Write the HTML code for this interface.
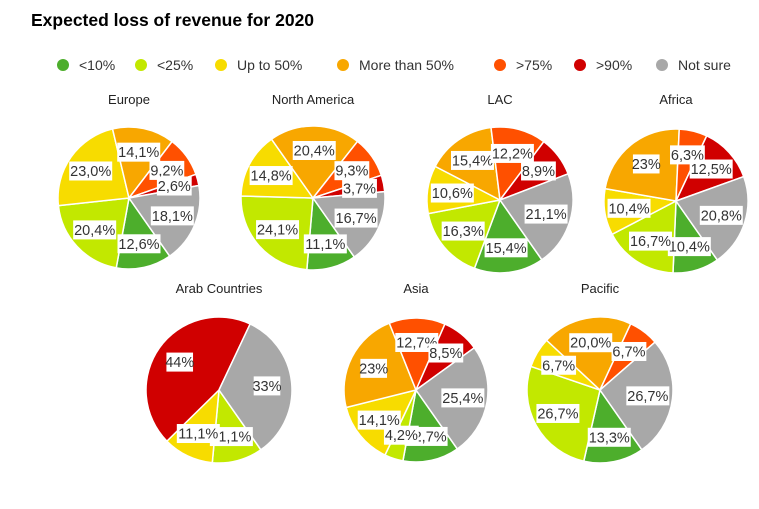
<!DOCTYPE html>
<html><head><meta charset="utf-8"><style>
body{margin:0;background:#fff;}
svg{display:block;font-family:"Liberation Sans",sans-serif;}
</style></head><body>
<svg id="c" width="759" height="509" viewBox="0 0 759 509">
<text x="31" y="26" font-size="17.5" font-weight="bold" fill="#000">Expected loss of revenue for 2020</text>
<g id="legend"></g>
<g id="pies"></g>
</svg>
<script>
const categories = ["<10%","<25%","Up to 50%","More than 50%",">75%",">90%","Not sure"];
const colors = ["#4dae2c","#c2e800","#f7dc00","#f8a700","#ff5000","#d00000","#a8a8a8"];
const regions = ["Europe","North America","LAC","Africa","Arab Countries","Asia","Pacific"];
const europe = [12.6,20.4,23.0,14.1,9.2,2.6,18.1];
const northAmerica = [11.1,24.1,14.8,20.4,9.3,3.7,16.7];
const lac = [15.4,16.3,10.6,15.4,12.2,8.9,21.1];
const africa = [10.4,16.7,10.4,23,6.3,12.5,20.8];
const arab = [0,11.1,11.1,0,0,44,33];
const asia = [12.7,4.2,14.1,23,12.7,8.5,25.4];
const pacific = [13.3,26.7,6.7,20.0,6.7,0,26.7];
const labels = [
 ["12,6%","20,4%","23,0%","14,1%","9,2%","2,6%","18,1%"],
 ["11,1%","24,1%","14,8%","20,4%","9,3%","3,7%","16,7%"],
 ["15,4%","16,3%","10,6%","15,4%","12,2%","8,9%","21,1%"],
 ["10,4%","16,7%","10,4%","23%","6,3%","12,5%","20,8%"],
 ["","11,1%","11,1%","","","44%","33%"],
 ["12,7%","4,2%","14,1%","23%","12,7%","8,5%","25,4%"],
 ["13,3%","26,7%","6,7%","20,0%","6,7%","","26,7%"]
];
const series = [europe,northAmerica,lac,africa,arab,asia,pacific];
const layout = [[129,198,71],[313,198,72],[500,200,73],[676,201,72],[219,390,73],[416,390,72],[600,390,73]];
const titleY = [104,104,104,104,293,293,293];
const legendX = [63,141,221,343,500,580,662];
const NS="http://www.w3.org/2000/svg";
function mk(t,a,p){const e=document.createElementNS(NS,t);for(const k in a)e.setAttribute(k,a[k]);p.appendChild(e);return e;}
const lg=document.getElementById('legend');
categories.forEach((c,i)=>{
  const g=mk('g',{},lg);
  
  
  mk('circle',{cx:legendX[i],cy:65,r:6,fill:colors[i]},g);
  const t=mk('text',{x:legendX[i]+16,y:70,'font-size':14,fill:'#333'},g);t.textContent=c;
});
const pg=document.getElementById('pies');
function pt(cx,cy,r,a){const rad=a*Math.PI/180;return [cx+r*Math.sin(rad),cy-r*Math.cos(rad)];}
series.forEach((vals,si)=>{
  const [cx,cy,r]=layout[si];
  const g=mk('g',{},pg);
  
  
  const tt=mk('text',{x:cx,y:titleY[si],'font-size':13,'text-anchor':'middle',fill:'#222'},g);
  
  
  tt.textContent=regions[si];
  const total=vals.reduce((a,b)=>a+b,0);
  let a=145;
  const lbls=[];
  vals.forEach((v,i)=>{
    if(v<=0)return;
    const sweep=v/total*360;
    const [x1,y1]=pt(cx,cy,r,a),[x2,y2]=pt(cx,cy,r,a+sweep);
    const p=mk('path',{d:`M${cx},${cy}L${x1},${y1}A${r},${r} 0 ${sweep>180?1:0} 1 ${x2},${y2}Z`,fill:colors[i],stroke:'#fff','stroke-width':1.5},g);
    
    
    const [lx,ly]=pt(cx,cy,r*0.66,a+sweep/2);
    lbls.push([lx,ly,labels[si][i]]);
    a+=sweep;
  });
  lbls.forEach(([lx,ly,s])=>{
    if(!s)return;
    const w=s.length*8.2+2;
    mk('rect',{x:lx-w/2,y:ly-9.5,width:w,height:19,fill:'#fff'},g);
    const t=mk('text',{x:lx,y:ly+5,'font-size':14.5,'text-anchor':'middle',fill:'#333'},g);
    
    
    t.textContent=s;
  });
});
</script>
</body></html>
